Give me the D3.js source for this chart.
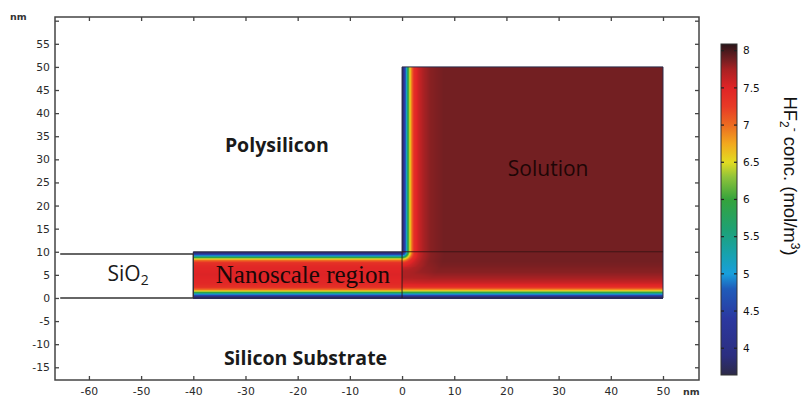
<!DOCTYPE html>
<html><head><meta charset="utf-8">
<script src="https://cdn.jsdelivr.net/npm/d3@7"></script>
<style>body{margin:0;background:#fff}</style>
</head><body>
<svg id="chart" width="805" height="399"></svg>
<script>
// ---- data ----
const xTicks = [-60,-50,-40,-30,-20,-10,0,10,20,30,40,50];
const yTicks = [-15,-10,-5,0,5,10,15,20,25,30,35,40,45,50,55];
const yTicksMinor = [-15,-10,-5,0,5,10,15,20,25,30,35,40,45,50,55,60];
const cbTicks = [4,4.5,5,5.5,6,6.5,7,7.5,8];
const cbRange = [3.64, 8.09];
const cbValues = [3.64, 3.9, 4.4, 4.8, 5.0, 5.25, 5.6, 6.0, 6.3, 6.5, 6.75, 7.0, 7.25, 7.5, 7.75, 7.88, 8.09];
const cbColors = ["#2d2a48","#2c2e80","#2b38a0","#1f5cba","#189fdc","#17a2b0","#1ea173","#35a33c","#8fc33a","#e2dc22","#f2a81e","#ec6b21","#e83a26","#e02426","#a82123","#731f22","#2a1519"];
// HF2- concentration vs distance from a reacting wall in the open solution (nm -> mol/m3)
const wallDist = [0, 0.3, 0.5, 0.8, 1.0, 1.2, 1.5, 1.9, 2.4, 3.2, 4.2, 5.5, 8];
const wallConc = [3.7, 4.0, 4.5, 5.0, 5.5, 6.0, 6.5, 7.0, 7.4, 7.6, 7.75, 7.83, 7.88];
// HF2- concentration across the nanoscale channel (x < 0), height y in nm
const chanY    = [0, 0.3, 0.5, 0.8, 1.0, 1.2, 1.45, 1.8, 2.3, 3.0, 5.0, 7.0, 7.7, 8.2, 8.55, 8.8, 9.0, 9.2, 9.5, 9.7, 10];
const chanConc = [3.7, 4.0, 4.5, 5.0, 5.5, 6.0, 6.5, 7.0, 7.35, 7.45, 7.52, 7.45, 7.35, 7.0, 6.5, 6.0, 5.5, 5.0, 4.5, 4.0, 3.7];
// geometry (nm)
const channelX = [-40, 0];
const channelY = [0, 10];
const underX = [0, 50];
const solutionX = [0, 50];
const solutionY = [10, 50];
const oxideX = [-65.5, -40];
const oxideY = [0, 9.5];
const labels = [
  {text:"Polysilicon", x:-24, y:31.5, cls:"bold"},
  {text:"Silicon Substrate", x:-18.5, y:-14.5, cls:"bold"},
  {text:"Solution", x:28, y:26.5, cls:"sol"},
  {text:"Nanoscale region", x:-19, y:3.3, cls:"serif"}
];

// ---- scales ----
const svg = d3.select("#chart");
const W0 = 55, W1 = 699, H0 = 17, H1 = 380;
const xs = d3.scaleLinear().domain([-66.5, 56.9]).range([W0, W1]);
const ys = d3.scaleLinear().domain([-17.75, 60.8]).range([H1, H0]);
const color = d3.scaleLinear().domain(cbValues).range(cbColors).clamp(true);
const prof = d3.scaleLinear().domain(wallDist).range(wallConc).clamp(true);
const chan = d3.scaleLinear().domain(chanY).range(chanConc).clamp(true);
const cmin = wallConc[0], cbulk = wallConc[wallConc.length-1];
const s = d => (prof(d) - cmin) / (cbulk - cmin);
function field(x, y) {
  if (x < 0) return chan(y);
  let f;
  if (y >= channelY[1]) f = s(x);
  else f = s(y) * s(Math.hypot(x, channelY[1] - y));
  return cmin + (cbulk - cmin) * f;
}

const fieldG = svg.append("g").attr("shape-rendering","crispEdges");

// Region A: channel x<0, rows
(function(){
  const p0 = ys(channelY[1]), p1 = ys(channelY[0]);
  const n = Math.ceil(p1 - p0);
  const h = (p1 - p0) / n;
  const rows = d3.range(n).map(i => ({py: p0 + i*h, y: ys.invert(p0 + (i+0.5)*h)}));
  fieldG.selectAll("rect.a").data(rows).join("rect").attr("class","a")
    .attr("x", xs(channelX[0])).attr("width", xs(channelX[1]) - xs(channelX[0]) + 0.5)
    .attr("y", d => d.py).attr("height", h + 0.6)
    .attr("fill", d => color(field(-5, d.y)));
})();

// Region C: under solution (x>0, y<10), 2D cells near corner, rows further
(function(){
  const p0 = ys(channelY[1]), p1 = ys(channelY[0]);
  const n = Math.ceil(p1 - p0);
  const h = (p1 - p0) / n;
  const q0 = xs(0), qMid = xs(14), q1 = xs(underX[1]);
  const m = Math.ceil(qMid - q0);
  const w = (qMid - q0) / m;
  const cells = [];
  for (let i = 0; i < n; i++) {
    const y = ys.invert(p0 + (i+0.5)*h);
    for (let j = 0; j < m; j++) {
      const x = xs.invert(q0 + (j+0.5)*w);
      cells.push({px: q0 + j*w, py: p0 + i*h, v: field(x, y)});
    }
  }
  fieldG.selectAll("rect.c").data(cells).join("rect").attr("class","c")
    .attr("x", d => d.px).attr("y", d => d.py).attr("width", w + 0.6).attr("height", h + 0.6)
    .attr("fill", d => color(d.v));
  const rows = d3.range(n).map(i => ({py: p0 + i*h, y: ys.invert(p0 + (i+0.5)*h)}));
  fieldG.selectAll("rect.c2").data(rows).join("rect").attr("class","c2")
    .attr("x", qMid).attr("width", q1 - qMid)
    .attr("y", d => d.py).attr("height", h + 0.6)
    .attr("fill", d => color(field(30, d.y)));
})();

// Region B: solution x>0, y>10, columns
(function(){
  const q0 = xs(solutionX[0]), q1 = xs(solutionX[1]);
  const m = Math.ceil(q1 - q0);
  const w = (q1 - q0) / m;
  const cols = d3.range(m).map(j => ({px: q0 + j*w, x: xs.invert(q0 + (j+0.5)*w)}));
  fieldG.selectAll("rect.b").data(cols).join("rect").attr("class","b")
    .attr("x", d => d.px).attr("width", d => (d.px + w + 0.6 > q1) ? q1 - d.px : w + 0.6)
    .attr("y", ys(solutionY[1])).attr("height", ys(solutionY[0]) - ys(solutionY[1]) + 0.5)
    .attr("fill", d => color(field(d.x, 30)));
})();

// outlines
const line = d3.line().x(d => xs(d[0])).y(d => ys(d[1]));
svg.append("path")
  .attr("d", line([[channelX[0],channelY[0]],[underX[1],channelY[0]],[solutionX[1],solutionY[1]],[solutionX[0],solutionY[1]],[solutionX[0],solutionY[0]],[channelX[0],channelY[1]]]) + "Z")
  .attr("fill","none").attr("stroke","#2b2b4a").attr("stroke-width",1);
svg.append("path").attr("d", line([[0,0],[0,10]])).attr("stroke","#2a1a1a").attr("stroke-width",0.9).attr("fill","none");
svg.append("path").attr("d", line([[0,10],[50,10]])).attr("stroke","#3a1414").attr("stroke-width",0.9).attr("fill","none");
// oxide box
svg.append("path").attr("d", line([[oxideX[0],oxideY[1]],[oxideX[1],oxideY[1]]])).attr("stroke","#333").attr("stroke-width",1.5).attr("fill","none");
svg.append("path").attr("d", line([[oxideX[0],oxideY[0]],[oxideX[1],oxideY[0]]])).attr("stroke","#333").attr("stroke-width",1.5).attr("fill","none");
svg.append("path").attr("d", line([[oxideX[1],oxideY[0]],[oxideX[1],oxideY[1]]])).attr("stroke","#333").attr("stroke-width",1.2).attr("fill","none");

// axes
const tickFont = "DejaVu Sans";
const gx = svg.append("g").attr("transform",`translate(0,${H1})`)
  .call(d3.axisBottom(xs).tickValues(xTicks).tickSize(-4).tickPadding(7).tickFormat(d => String(d)));
const gy = svg.append("g").attr("transform",`translate(${W0},0)`)
  .call(d3.axisLeft(ys).tickValues(yTicksMinor).tickSize(-4).tickPadding(5).tickFormat(d => yTicks.includes(d) ? String(d) : ""));
const gt = svg.append("g").attr("transform",`translate(0,${H0})`)
  .call(d3.axisTop(xs).tickValues(xTicks).tickSize(-4).tickFormat(""));
const gr = svg.append("g").attr("transform",`translate(${W1},0)`)
  .call(d3.axisRight(ys).tickValues(yTicksMinor).tickSize(-4).tickFormat(""));
[gx,gy,gt,gr].forEach(g => {
  g.select(".domain").remove();
  g.selectAll("line").attr("stroke","#444").attr("stroke-width",1.3);
  g.selectAll("text").attr("font-family",tickFont).attr("font-size",10.8).attr("fill","#2a2a2a");
});
svg.append("rect").attr("x",W0).attr("y",H0).attr("width",W1-W0).attr("height",H1-H0)
  .attr("fill","none").attr("stroke","#444").attr("stroke-width",1.5);

svg.append("text").attr("x",10).attr("y",20).text("nm")
  .attr("font-family",tickFont).attr("font-weight","bold").attr("font-size",9.5).attr("fill","#333");
svg.append("text").attr("x",683).attr("y",395).text("nm")
  .attr("font-family",tickFont).attr("font-weight","bold").attr("font-size",9.5).attr("fill","#333");

// region labels
labels.forEach(l => {
  const t = svg.append("text").attr("x", xs(l.x)).attr("y", ys(l.y)).attr("text-anchor","middle").text(l.text);
  if (l.cls === "bold") t.attr("font-family","Open Sans").attr("font-weight","bold").attr("font-size",19.5).attr("fill","#1a1a1a");
  else if (l.cls === "sol") t.attr("font-family","Open Sans").attr("font-size",21).attr("fill","#1e0606");
  else t.attr("font-family","Liberation Serif").attr("font-size",25).attr("fill","#1a0808");
});
const sio = svg.append("text").attr("x", xs(-52.5)).attr("y", ys(3.6)).attr("text-anchor","middle")
  .attr("font-family","Open Sans").attr("font-size",21).attr("fill","#1a1a1a");
sio.append("tspan").text("SiO");
sio.append("tspan").attr("font-size",14).attr("dy",4).text("2");

// colorbar
const cb = d3.scaleLinear().domain(cbRange).range([375, 44]);
const cbX = 721, cbW = 16;
const grad = svg.append("defs").append("linearGradient").attr("id","cbgrad")
  .attr("x1",0).attr("y1",1).attr("x2",0).attr("y2",0);
grad.selectAll("stop").data(cbValues).join("stop")
  .attr("offset", d => (d - cbRange[0])/(cbRange[1]-cbRange[0]))
  .attr("stop-color", (d,i) => cbColors[i]);
svg.append("rect").attr("x",cbX).attr("y",cb(cbRange[1])).attr("width",cbW).attr("height",cb(cbRange[0])-cb(cbRange[1]))
  .attr("fill","url(#cbgrad)").attr("stroke","#333").attr("stroke-width",1);
const cbt = svg.append("g").selectAll("g").data(cbTicks).join("g");
cbt.append("line").attr("x1",cbX).attr("x2",cbX+3).attr("y1",d=>cb(d)).attr("y2",d=>cb(d)).attr("stroke","#222").attr("stroke-width",1.2);
cbt.append("line").attr("x1",cbX+cbW-3).attr("x2",cbX+cbW).attr("y1",d=>cb(d)).attr("y2",d=>cb(d)).attr("stroke","#222").attr("stroke-width",1.2);
cbt.append("text").attr("x",cbX+cbW+6).attr("y",d=>cb(d)).attr("dy","0.35em").text(d=>String(d))
  .attr("font-family",tickFont).attr("font-size",10.5).attr("fill","#111");

const title = svg.append("text").attr("transform","translate(784,176) rotate(90)")
  .attr("text-anchor","middle").attr("font-family","Liberation Sans").attr("font-size",18.5).attr("fill","#111");
title.append("tspan").text("HF");
title.append("tspan").attr("font-size",12).attr("dy",4).text("2");
title.append("tspan").attr("font-size",12).attr("dy",-11).text("-");
title.append("tspan").attr("dy",7).text(" conc. (mol/m");
title.append("tspan").attr("font-size",12).attr("dy",-7).text("3");
title.append("tspan").attr("dy",7).text(")");
</script>
</body></html>
